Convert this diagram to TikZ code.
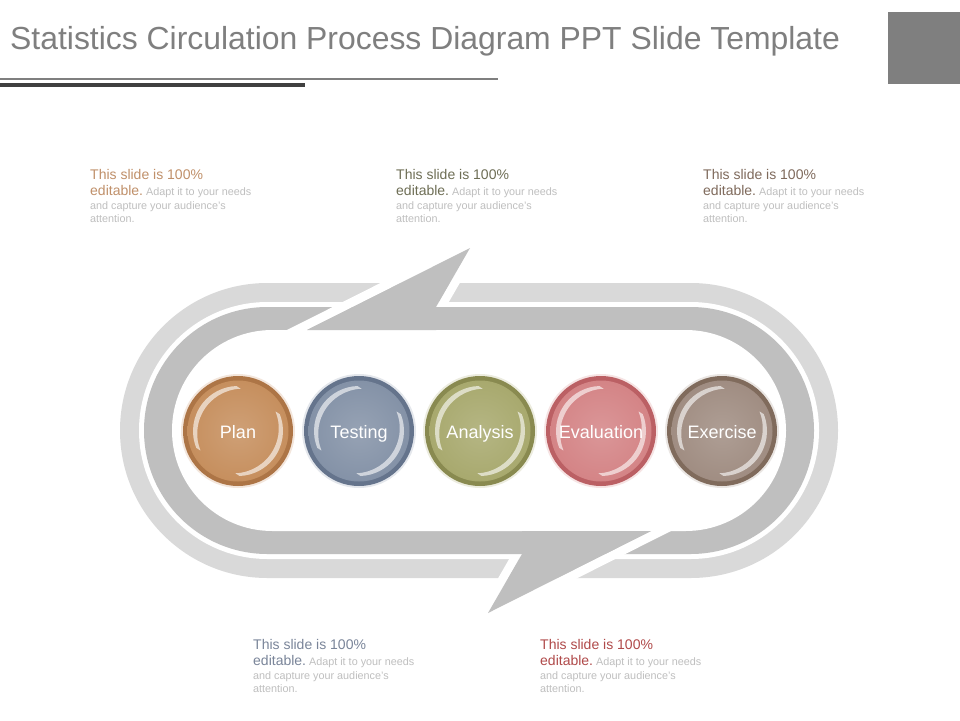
\documentclass[tikz,border=0pt]{standalone}
\usepackage{fontspec}
\setmainfont{Liberation Sans}
\definecolor{titlegray}{HTML}{7F7F7F}
\definecolor{darkline}{HTML}{404040}
\definecolor{lightband}{HTML}{D9D9D9}
\definecolor{darkband}{HTML}{BFBFBF}
\definecolor{smallgray}{HTML}{BFBFBF}
\definecolor{planc}{HTML}{C68F5E}\definecolor{plandk}{HTML}{AD7546}
\definecolor{testc}{HTML}{8492A7}\definecolor{testdk}{HTML}{65748C}
\definecolor{anac}{HTML}{A8A96E}\definecolor{anadk}{HTML}{898A50}
\definecolor{evalc}{HTML}{D48486}\definecolor{evaldk}{HTML}{BB6064}
\definecolor{exc}{HTML}{A08D82}\definecolor{exdk}{HTML}{806B5C}
\definecolor{blurbA}{HTML}{C0906A}
\definecolor{blurbB}{HTML}{6E6E55}
\definecolor{blurbC}{HTML}{7F6A5C}
\definecolor{blurbD}{HTML}{7A8599}
\definecolor{blurbE}{HTML}{B04A4A}
\newcommand{\bigf}{\fontsize{14}{15}\selectfont}
\newcommand{\smallf}{\fontsize{10.8}{12}\selectfont}
\newcommand{\blurb}[4]{%
  \begin{scope}[shift={(#2,#3)}]
    \node[blurbtext, text=#4, font=\bigf] (#1a) at (0,0) {This slide is 100\%};
    \node[blurbtext, text=#4, font=\bigf] (#1b) at (0,16) {editable.\hspace{3pt}{\smallf\color{smallgray}Adapt it to your needs}};
    \node[blurbtext, text=smallgray, font=\smallf] (#1c) at (0,30) {and capture your audience’s};
    \node[blurbtext, text=smallgray, font=\smallf] (#1d) at (0,43) {attention.};
  \end{scope}}
\newcommand{\ball}[5]{%
  \fill[#3!22!white] (#2,431) circle (57);
  \fill[#4] (#2,431) circle (55);
  \shade[inner color=#3!85!white, outer color=#3] (#2,431) circle (50.5);
  \fill[white, opacity=0.6] (#2,431) ++(158:45) arc (158:268:45) -- ++(4.2,2.7) arc (268:158:45) -- cycle;
  \fill[white, opacity=0.6] (#2,431) ++(-22:45) arc (-22:88:45) -- ++(-4.2,-2.7) arc (88:-22:45) -- cycle;
  \node[balltext, anchor=base] (#1) at (#2,438) {#5};}
\newcommand{\arrowpart}{%
  \fill[white] (279,334) -- (388.4,279) -- (408.4,279) -- (299,334) -- cycle;
  \fill[white] (452.1,279) -- (462.1,279) -- (447.4,304.5) -- (437.4,304.5) -- cycle;
  \fill[darkband] (307,330) -- (470,248) -- (436,307) -- (436,330) -- cycle;}
\begin{document}
\begin{tikzpicture}[x=1pt,y=-1pt,
  blurbtext/.style={anchor=base west, inner sep=0pt},
  balltext/.style={inner sep=0pt, text=white, font=\fontsize{18}{20}\selectfont}]
\useasboundingbox (0,0) rectangle (960,720);
\fill[white] (0,0) rectangle (960,720);
% title
\node[anchor=base west, inner sep=0pt, text=titlegray, font=\fontsize{31.9}{36}\selectfont] (title) at (10,49) {Statistics Circulation Process Diagram PPT Slide Template};
\node[fill=titlegray, minimum width=72pt, minimum height=72pt, inner sep=0pt, anchor=north west] (corner) at (888,12) {};
\draw[titlegray, line width=2pt] (0,79) -- (498,79);
\draw[darkline, line width=4pt] (0,85) -- (305,85);
% bands
\fill[lightband, rounded corners=147.4pt] (120,283) rectangle (838,578);
\fill[white, rounded corners=128.4pt] (139,302) rectangle (819,559);
\fill[darkband, rounded corners=123.4pt] (144,307) rectangle (814,554);
\fill[white, rounded corners=100.4pt] (172,330) rectangle (786,531);
\arrowpart
\begin{scope}[rotate around={180:(479,430.5)}]
\arrowpart
\end{scope}
% balls
\ball{plan}{238}{planc}{plandk}{Plan}
\ball{testing}{359}{testc}{testdk}{Testing}
\ball{analysis}{480}{anac}{anadk}{Analysis}
\ball{evaluation}{601}{evalc}{evaldk}{Evaluation}
\ball{exercise}{722}{exc}{exdk}{Exercise}
% texts
\blurb{ta}{90}{179}{blurbA}
\blurb{tb}{396}{179}{blurbB}
\blurb{tc}{703}{179}{blurbC}
\blurb{td}{253}{649}{blurbD}
\blurb{te}{540}{649}{blurbE}
\end{tikzpicture}
\end{document}
